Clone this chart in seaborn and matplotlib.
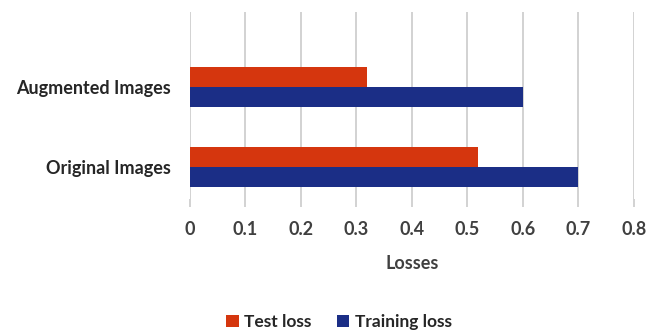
import matplotlib
matplotlib.use("Agg")
import matplotlib.pyplot as plt
import seaborn as sns
import pandas as pd

# Loss values per dataset variant
categories = ["Augmented Images", "Original Images"]
test_loss = [0.32, 0.52]
training_loss = [0.60, 0.70]
series_names = ["Test loss", "Training loss"]
x_ticks = [0, 0.1, 0.2, 0.3, 0.4, 0.5, 0.6, 0.7, 0.8]

df = pd.DataFrame({
    "Dataset": categories * 2,
    "Loss": test_loss + training_loss,
    "Series": [series_names[0]] * len(categories) + [series_names[1]] * len(categories),
})

sns.set_theme(style="white")
plt.rcParams["font.family"] = ["Lato", "DejaVu Sans"]

fig = plt.figure(figsize=(6.46, 3.33), dpi=100)
ax = fig.add_axes([0.294, 0.402, 0.687, 0.562])

palette = {"Test loss": "#D5360E", "Training loss": "#1B2E86"}
sns.barplot(data=df, x="Loss", y="Dataset", hue="Series", hue_order=series_names,
            order=categories, orient="h", palette=palette, width=0.5, gap=0,
            saturation=1, linewidth=0, ax=ax, legend=True)

ax.set_xlim(0, 0.8)
ax.set_ylim(1.40, -0.934)
ax.set_xticks(x_ticks)
ax.set_xticklabels([f"{t:g}" for t in x_ticks])
ax.grid(axis="x", color="#CFCFCF", linewidth=1.3)
ax.set_axisbelow(True)
for s in ax.spines.values():
    s.set_visible(False)

ax.tick_params(axis="x", which="major", bottom=True, length=6, width=1.3,
               color="#CFCFCF", pad=10, labelsize=13, labelcolor="#404040")
ax.tick_params(axis="y", left=False, length=0, pad=14, labelsize=13, labelcolor="#262626")
for lbl in ax.get_xticklabels():
    lbl.set_fontweight("bold")
for lbl in ax.get_yticklabels():
    lbl.set_fontweight("bold")

ax.set_xlabel("Losses", fontsize=13, fontweight="bold", color="#404040", labelpad=12)
ax.set_ylabel("")

handles, labels = ax.get_legend_handles_labels()
ax.legend(handles, labels, loc="center", bbox_to_anchor=(339 / 646, 1 - 322 / 333),
          bbox_transform=fig.transFigure, ncol=2, frameon=False,
          handlelength=0.7, handleheight=0.7, handletextpad=0.3, columnspacing=1.5,
          prop={"size": 12.5, "weight": "bold"}, labelcolor="#262626")

fig.savefig("out.png", dpi=100)
